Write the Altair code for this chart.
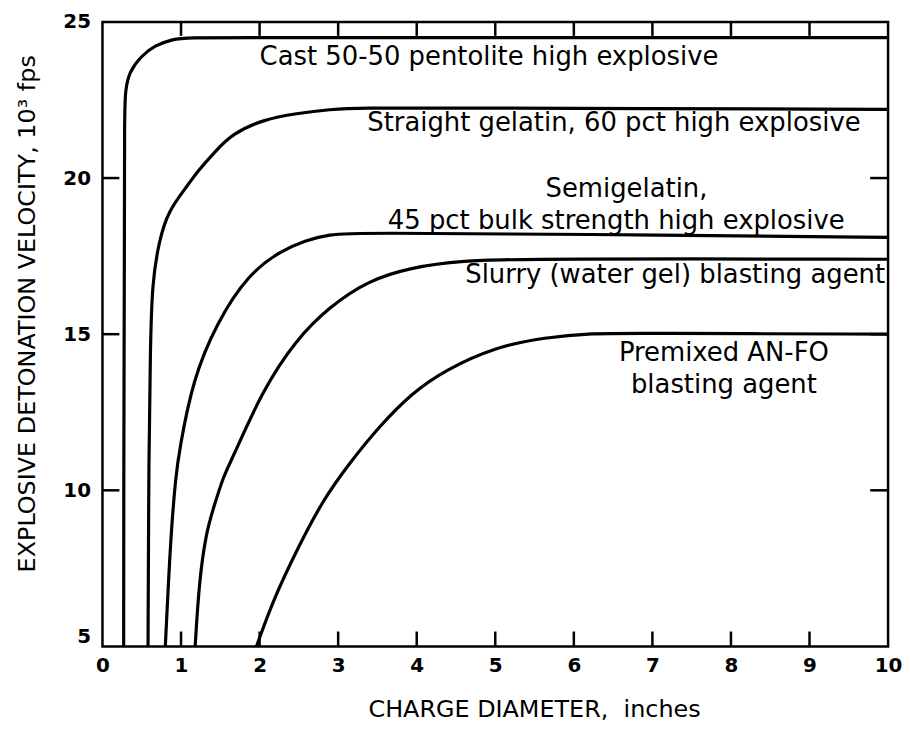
import altair as alt
import pandas as pd

# ---- data ----
series_names = [
    "Cast 50-50 pentolite",
    "Straight gelatin 60 pct",
    "Semigelatin 45 pct",
    "Slurry",
    "Premixed AN-FO",
]

pentolite_x = [0.27, 0.27, 0.28, 0.28, 0.29, 0.34, 0.49, 0.67, 0.91, 1.03, 2.0, 10.0]
pentolite_y = [5.0, 10.0, 18.0, 22.0, 22.8, 23.4, 23.9, 24.26, 24.45, 24.5, 24.5, 24.5]

gelatin_x = [0.58, 0.59, 0.61, 0.63, 0.72, 0.84, 1.06, 1.22, 1.44, 1.64, 2.05, 2.47, 2.89, 3.32, 4.2, 10.0]
gelatin_y = [5.0, 11.3, 14.5, 16.6, 18.0, 18.95, 19.68, 20.25, 20.86, 21.4, 21.88, 22.07, 22.2, 22.25, 22.25, 22.2]

semigel_x = [0.80, 0.84, 0.875, 0.93, 0.98, 1.15, 1.45, 1.86, 2.28, 2.58, 2.87, 3.3, 6.0, 10.0]
semigel_y = [5.0, 7.07, 8.66, 10.4, 11.31, 13.54, 15.35, 16.94, 17.68, 17.99, 18.2, 18.25, 18.2, 18.1]

slurry_x = [1.18, 1.23, 1.32, 1.42, 1.54, 1.63, 2.04, 2.46, 2.88, 3.38, 3.92, 4.55, 5.5, 10.0]
slurry_y = [5.0, 7.07, 8.66, 9.49, 10.45, 10.89, 13.22, 14.81, 15.86, 16.72, 17.13, 17.36, 17.42, 17.4]

anfo_x = [1.96, 2.18, 2.48, 2.81, 3.15, 3.52, 3.94, 4.36, 5.0, 5.63, 6.26, 6.71, 10.0]
anfo_y = [5.0, 6.53, 8.12, 9.71, 10.89, 12.04, 13.12, 13.85, 14.59, 14.90, 15.03, 15.03, 15.0]

label_texts = [
    "Cast 50-50 pentolite high explosive",
    "Straight gelatin, 60 pct high explosive",
    "Semigelatin,",
    "45 pct bulk strength high explosive",
    "Slurry (water gel) blasting agent",
    "Premixed AN-FO",
    "blasting agent",
]
label_x = [4.92, 6.51, 6.67, 6.54, 7.29, 7.91, 7.91]
label_y = [23.89, 21.75, 19.65, 18.63, 16.88, 14.39, 13.37]

x_ticks = [1, 2, 3, 4, 5, 6, 7, 8, 9]
y_ticks = [10, 15, 20]
x_label_values = [0, 1, 2, 3, 4, 5, 6, 7, 8, 9, 10]
y_label_values = [5, 10, 15, 20, 25]

# ---- build tables ----
rows = []
for name, xs, ys in zip(
    series_names,
    [pentolite_x, gelatin_x, semigel_x, slurry_x, anfo_x],
    [pentolite_y, gelatin_y, semigel_y, slurry_y, anfo_y],
):
    for i, (a, b) in enumerate(zip(xs, ys)):
        rows.append({"series": name, "idx": i, "x": a, "y": b})
curves = pd.DataFrame(rows)
labels = pd.DataFrame({"text": label_texts, "x": label_x, "y": label_y})

xscale = alt.Scale(domain=[0, 10], nice=False, zero=False)
yscale = alt.Scale(domain=[5, 25], nice=False, zero=False)

FONT = "DejaVu Sans"

lines = alt.Chart(curves).mark_line(
    color="black", strokeWidth=3.2, interpolate="basis", clip=True
).encode(
    x=alt.X(
        "x:Q",
        scale=xscale,
        axis=alt.Axis(
            values=x_label_values,
            format="d",
            title="CHARGE DIAMETER,\u00a0 inches",
            titleX=434,
            titleY=70,
            titleBaseline="alphabetic",
            labelPadding=9,
            labelFlush=False,
        ),
    ),
    y=alt.Y(
        "y:Q",
        scale=yscale,
        axis=alt.Axis(
            values=y_label_values,
            format="d",
            title="EXPLOSIVE DETONATION VELOCITY, 10³ fps",
            titleX=-68,
            titleY=293,
            titleBaseline="alphabetic",
            labelPadding=12,
            labelFlush=False,
            labelBaseline=alt.condition("datum.value == 5", alt.value("bottom"), alt.value("middle")),
        ),
    ),
    detail="series:N",
    order="idx:Q",
)

bottom_ticks = alt.Chart(pd.DataFrame({"x": x_ticks, "y": [5] * len(x_ticks)})).mark_tick(
    orient="vertical", size=15, thickness=2.5, color="black", yOffset=-7.5, opacity=1
).encode(x=alt.X("x:Q", scale=xscale), y=alt.Y("y:Q", scale=yscale))

top_ticks = alt.Chart(pd.DataFrame({"x": x_ticks, "y": [25] * len(x_ticks)})).mark_tick(
    orient="vertical", size=14, thickness=2.5, color="black", yOffset=7, opacity=1
).encode(x=alt.X("x:Q", scale=xscale), y=alt.Y("y:Q", scale=yscale))

left_ticks = alt.Chart(pd.DataFrame({"x": [0] * len(y_ticks), "y": y_ticks})).mark_tick(
    orient="horizontal", size=17, thickness=2.5, color="black", xOffset=8.5, opacity=1
).encode(x=alt.X("x:Q", scale=xscale), y=alt.Y("y:Q", scale=yscale))

right_ticks = alt.Chart(pd.DataFrame({"x": [10] * len(y_ticks), "y": y_ticks})).mark_tick(
    orient="horizontal", size=18, thickness=2.5, color="black", xOffset=-9, opacity=1
).encode(x=alt.X("x:Q", scale=xscale), y=alt.Y("y:Q", scale=yscale))

texts = alt.Chart(labels).mark_text(
    font=FONT, fontSize=26, color="black", align="center", baseline="middle"
).encode(x=alt.X("x:Q", scale=xscale), y=alt.Y("y:Q", scale=yscale), text="text:N")

chart = (
    alt.layer(lines, bottom_ticks, top_ticks, left_ticks, right_ticks, texts)
    .properties(
        width=790,
        height=628,
        autosize=alt.AutoSizeParams(type="none"),
        padding={"left": 95, "top": 12, "right": 14, "bottom": 80},
        background="white",
    )
    .configure_view(stroke="black", strokeWidth=2.5)
    .configure_axis(
        domain=False,
        ticks=False,
        grid=False,
        labelFont=FONT,
        labelFontWeight="bold",
        labelFontSize=20,
        labelColor="black",
        titleFont=FONT,
        titleFontWeight="normal",
        titleFontSize=24,
        titleColor="black",
    )
)

chart.save("out.html", embed_options={"renderer": "svg", "actions": False})
